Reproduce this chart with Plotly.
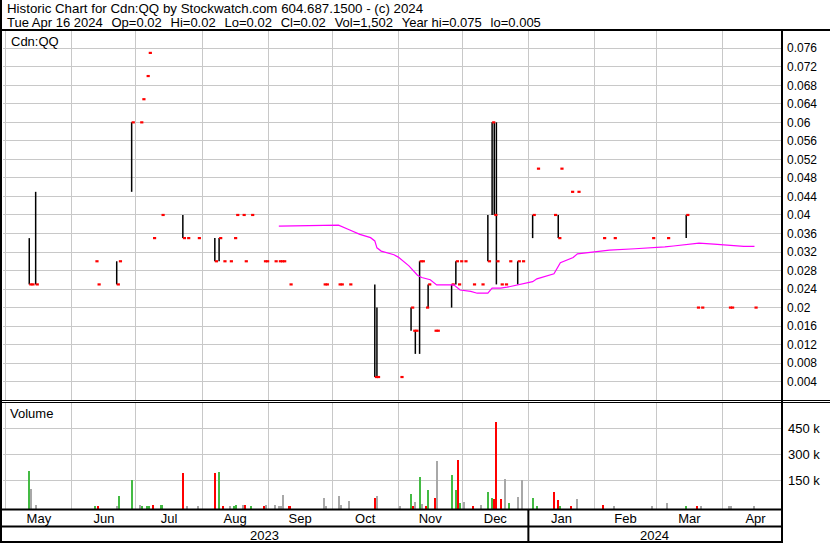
import pandas as pd
import plotly.graph_objects as go

# ---------------- data (Cdn:QQ daily) ----------------
dates = ["2023-05-12", "2023-05-13", "2023-05-15", "2023-06-12", "2023-06-13", "2023-06-22",
         "2023-06-23", "2023-06-29", "2023-07-03", "2023-07-04", "2023-07-06", "2023-07-07",
         "2023-07-09", "2023-07-13", "2023-07-23", "2023-07-25", "2023-07-30", "2023-08-07",
         "2023-08-09", "2023-08-11", "2023-08-14", "2023-08-16", "2023-08-17", "2023-08-20",
         "2023-08-21", "2023-08-24", "2023-08-30", "2023-08-31", "2023-09-04", "2023-09-06",
         "2023-09-07", "2023-09-08", "2023-09-11", "2023-09-27", "2023-09-28", "2023-10-04",
         "2023-10-05", "2023-10-09", "2023-10-21", "2023-10-22", "2023-11-02", "2023-11-07",
         "2023-11-08", "2023-11-09", "2023-11-11", "2023-11-12", "2023-11-14", "2023-11-15",
         "2023-11-18", "2023-11-19", "2023-11-26", "2023-11-28", "2023-11-29", "2023-11-30",
         "2023-12-02", "2023-12-06", "2023-12-10", "2023-12-13", "2023-12-15", "2023-12-16",
         "2023-12-17", "2023-12-19", "2023-12-21", "2023-12-23", "2023-12-27", "2023-12-29",
         "2024-01-03", "2024-01-05", "2024-01-13", "2024-01-15", "2024-01-16", "2024-01-21",
         "2024-01-24", "2024-02-05", "2024-02-10", "2024-02-28", "2024-03-06", "2024-03-15",
         "2024-03-20", "2024-03-22", "2024-04-04", "2024-04-05", "2024-04-16"]

highs = [0.035, 0.025, 0.045, 0.03, 0.025, 0.03,
         0.03, 0.06, 0.06, 0.065, 0.07, 0.075,
         0.035, 0.04, 0.04, 0.035, 0.035, 0.035,
         0.035, 0.03, 0.03, 0.035, 0.04, 0.04,
         0.03, 0.04, 0.03, 0.03, 0.03, 0.03,
         0.03, 0.03, 0.025, 0.025, 0.025, 0.025,
         0.025, 0.025, 0.025, 0.02, 0.005, 0.02,
         0.015, 0.015, 0.03, 0.03, 0.02, 0.025,
         0.015, 0.015, 0.025, 0.03, 0.025, 0.03,
         0.03, 0.025, 0.025, 0.04, 0.06, 0.06,
         0.06, 0.025, 0.025, 0.03, 0.03, 0.03,
         0.04, 0.05, 0.04, 0.04, 0.05, 0.045,
         0.045, 0.035, 0.035, 0.035, 0.035, 0.04,
         0.02, 0.02, 0.02, 0.02, 0.02]

lows = [0.025, 0.025, 0.025, 0.03, 0.025, 0.025,
        0.03, 0.045, 0.06, 0.065, 0.07, 0.075,
        0.035, 0.04, 0.035, 0.035, 0.035, 0.03,
        0.03, 0.03, 0.03, 0.035, 0.04, 0.04,
        0.03, 0.04, 0.03, 0.03, 0.03, 0.03,
        0.03, 0.03, 0.025, 0.025, 0.025, 0.025,
        0.025, 0.025, 0.005, 0.005, 0.005, 0.015,
        0.015, 0.01, 0.01, 0.03, 0.02, 0.02,
        0.015, 0.015, 0.02, 0.025, 0.025, 0.03,
        0.03, 0.025, 0.025, 0.03, 0.04, 0.04,
        0.025, 0.025, 0.025, 0.03, 0.025, 0.03,
        0.035, 0.05, 0.04, 0.035, 0.05, 0.045,
        0.045, 0.035, 0.035, 0.035, 0.035, 0.035,
        0.02, 0.02, 0.02, 0.02, 0.02]

closes = [0.025, 0.025, 0.025, 0.03, 0.025, 0.025,
          0.03, 0.06, 0.06, 0.065, 0.07, 0.075,
          0.035, 0.04, 0.035, 0.035, 0.035, 0.03,
          0.035, 0.03, 0.03, 0.035, 0.04, 0.04,
          0.03, 0.04, 0.03, 0.03, 0.03, 0.03,
          0.03, 0.03, 0.025, 0.025, 0.025, 0.025,
          0.025, 0.025, 0.005, 0.005, 0.005, 0.02,
          0.015, 0.015, 0.03, 0.03, 0.02, 0.025,
          0.015, 0.015, 0.025, 0.03, 0.025, 0.03,
          0.03, 0.025, 0.025, 0.03, 0.06, 0.04,
          0.03, 0.025, 0.025, 0.03, 0.03, 0.03,
          0.04, 0.05, 0.04, 0.035, 0.05, 0.045,
          0.045, 0.035, 0.035, 0.035, 0.035, 0.04,
          0.02, 0.02, 0.02, 0.02, 0.02]

volumes = [202000, 98000, 6000, 1500, 1500, 1500,
           58000, 150000, 3000, 2000, 1500, 1500,
           3000, 5000, 190000, 1500, 1500, 190000,
           196000, 1500, 1500, 1500, 6000, 2500,
           3500, 1500, 1500, 3500, 2500, 1500,
           1500, 63000, 1500, 46000, 1500, 58000,
           2500, 29000, 46000, 58000, 1500, 69000,
           1500, 21000, 166000, 10000, 1500, 92000,
           46000, 261000, 179000, 92000, 265000, 17000,
           23000, 2000, 4000, 81000, 46000, 40000,
           485000, 40000, 156000, 17000, 52000, 150000,
           46000, 1500, 81000, 35000, 2000, 1000,
           40000, 6000, 2000, 2000, 17000, 2000,
           2000, 2000, 2000, 2000, 1502]

# moving average (magenta line)
ma_dates = ["2023-09-06", "2023-10-04", "2023-10-09", "2023-10-14", "2023-10-19", "2023-10-21",
            "2023-10-22", "2023-10-24", "2023-10-30", "2023-11-01", "2023-11-06", "2023-11-10",
            "2023-11-12", "2023-11-16", "2023-11-19", "2023-11-27", "2023-11-30", "2023-12-05",
            "2023-12-08", "2023-12-13", "2023-12-15", "2023-12-19", "2023-12-22", "2023-12-30",
            "2024-01-03", "2024-01-05", "2024-01-13", "2024-01-16", "2024-01-22", "2024-01-24",
            "2024-02-03", "2024-02-08", "2024-02-20", "2024-03-01", "2024-03-05", "2024-03-09",
            "2024-03-14", "2024-03-21", "2024-03-28", "2024-04-04", "2024-04-11", "2024-04-16"]
ma_values = [0.0376, 0.0378, 0.0368, 0.0358, 0.0351, 0.0344,
             0.0329, 0.0322, 0.0314, 0.0309, 0.0290, 0.0270,
             0.0265, 0.0260, 0.0249, 0.0249, 0.0238, 0.0235,
             0.0231, 0.0231, 0.0242, 0.0242, 0.0244, 0.0251,
             0.0256, 0.0262, 0.0273, 0.0297, 0.0308, 0.0316,
             0.0322, 0.0324, 0.0327, 0.0329, 0.0331, 0.0333,
             0.0335, 0.0339, 0.0337, 0.0334, 0.0332, 0.0332]

price_ticks = [0.004, 0.008, 0.012, 0.016, 0.02, 0.024, 0.028, 0.032, 0.036, 0.04,
               0.044, 0.048, 0.052, 0.056, 0.06, 0.064, 0.068, 0.072, 0.076]
price_tick_labels = ["0.004", "0.008", "0.012", "0.016", "0.02", "0.024", "0.028", "0.032",
                     "0.036", "0.04", "0.044", "0.048", "0.052", "0.056", "0.06", "0.064",
                     "0.068", "0.072", "0.076"]
vol_ticks = [150000, 300000, 450000]
vol_tick_labels = ["150 k", "300 k", "450 k"]

header1 = "Historic Chart for Cdn:QQ by Stockwatch.com 604.687.1500 - (c) 2024"
header2_fields = ["Tue Apr 16 2024", "Op=0.02", "Hi=0.02", "Lo=0.02", "Cl=0.02",
                  "Vol=1,502", "Year hi=0.075", "lo=0.005"]
symbol = "Cdn:QQ"
vol_title = "Volume"
years = ["2023", "2024"]

# ---------------- styling / layout helpers ----------------
FONT = "Arial, 'Liberation Sans', sans-serif"
GRID = "#C8C8C8"
W, H = 830, 543
L, R, T, B = 3, 781, 31, 509          # plot area in pixels


def px(x):
    return (x - L) / (R - L)


def py(y):
    return (B - y) / (B - T)


dt = pd.to_datetime(dates)
fmt = "%Y-%m-%d %H:%M"

hl_x, hl_y = [], []
for d, h, l in zip(dt, highs, lows):
    if h > l:
        hl_x += [d.strftime(fmt), d.strftime(fmt), None]
        hl_y += [l, h, None]

cl_x, cl_y = [], []
for d, c in zip(dt, closes):
    cl_x += [d.strftime(fmt), (d + pd.Timedelta(hours=36)).strftime(fmt), None]
    cl_y += [c, c, None]

vcolors = []
prev = None
for c in closes:
    if prev is None or c > prev:
        vcolors.append("#44BB44")
    elif c < prev:
        vcolors.append("#FF0000")
    else:
        vcolors.append("#A8A8A8")
    prev = c

fig = go.Figure()
fig.add_trace(go.Scatter(x=hl_x, y=hl_y, mode="lines", line=dict(color="black", width=1.5),
                         xaxis="x", yaxis="y", hoverinfo="skip", connectgaps=False))
fig.add_trace(go.Scatter(x=cl_x, y=cl_y, mode="lines", line=dict(color="#FF0000", width=2.2),
                         xaxis="x", yaxis="y", hoverinfo="skip", connectgaps=False))
fig.add_trace(go.Scatter(x=ma_dates, y=ma_values, mode="lines",
                         line=dict(color="#FF00FF", width=1.2), xaxis="x", yaxis="y"))
fig.add_trace(go.Bar(x=dates, y=[v + 18000 for v in volumes], base=-18000,
                     marker=dict(color=vcolors, line=dict(width=0)),
                     width=0.95 * 86400000, xaxis="x2", yaxis="y2"))

xrange = ["2023-04-29 16:29", "2024-04-28 10:33"]
common_x = dict(type="date", range=xrange, showgrid=True, gridcolor=GRID, gridwidth=1,
                dtick="M1", tick0="2023-05-01", zeroline=False, showline=False)

fig.update_layout(
    width=W, height=H,
    margin=dict(l=L, r=W - R, t=T, b=H - B),
    paper_bgcolor="white", plot_bgcolor="white",
    showlegend=False, bargap=0,
    font=dict(family=FONT, size=13, color="black"),
    xaxis=dict(domain=[0, 1], anchor="y", showticklabels=False, **common_x),
    xaxis2=dict(domain=[0, 1], anchor="y2", matches="x", showticklabels=True,
                tickformat="%b", ticklabelmode="period", ticks="",
                tickfont=dict(size=13, family=FONT, color="black"), **common_x),
    yaxis=dict(domain=[py(400), 1], range=[0.00004, 0.07973], side="right",
               tickvals=price_ticks, ticktext=price_tick_labels, showgrid=True,
               gridcolor=GRID, zeroline=False, showline=False, ticks="",
               ticklabelstandoff=5, tickfont=dict(size=12, family=FONT, color="black")),
    yaxis2=dict(domain=[0, py(403)], range=[-18000, 597000], side="right",
                tickvals=vol_ticks, ticktext=vol_tick_labels, showgrid=True,
                gridcolor=GRID, zeroline=False, showline=False, ticks="",
                ticklabelstandoff=6, tickfont=dict(size=13, family=FONT, color="black")),
)

gap = "\u2009\u2009\u00a0"
header2 = gap.join(header2_fields)
annotations = [
    dict(text=header1, x=px(5), y=py(8.5), size=13.3),
    dict(text=header2, x=px(5), y=py(22.5), size=13),
    dict(text=symbol, x=px(9), y=py(42), size=13),
    dict(text=vol_title, x=px(8), y=py(413), size=13),
]
for a in annotations:
    s = a.pop("size")
    a.update(xref="paper", yref="paper", xanchor="left", yanchor="middle", showarrow=False,
             font=dict(family=FONT, size=s, color="black"))
annotations += [
    dict(text=years[0], x=px(264), y=py(535), xref="paper", yref="paper", xanchor="center",
         yanchor="middle", showarrow=False, font=dict(family=FONT, size=13, color="black")),
    dict(text=years[1], x=px(654), y=py(535), xref="paper", yref="paper", xanchor="center",
         yanchor="middle", showarrow=False, font=dict(family=FONT, size=13, color="black")),
]
fig.update_layout(annotations=annotations)

shapes = []


def hline(y, x0, x1, w):
    shapes.append(dict(type="line", xref="paper", yref="paper", x0=px(x0), x1=px(x1),
                       y0=py(y), y1=py(y), line=dict(color="black", width=w)))


def vline(x, y0, y1, w):
    shapes.append(dict(type="line", xref="paper", yref="paper", x0=px(x), x1=px(x),
                       y0=py(y0), y1=py(y1), line=dict(color="black", width=w)))


hline(30, 0, W, 2)
hline(400.5, 0, W, 1)
hline(402.5, 0, W, 1)
hline(509.5, 0, 782, 2)
hline(526.5, 0, 782, 2)
hline(542, 0, 782, 2)
vline(1, 0, H, 2)
vline(782, 30, 543, 2)
shapes.append(dict(type="line", xref="x", yref="paper", x0="2024-01-01", x1="2024-01-01",
                   y0=py(509), y1=py(542), line=dict(color="black", width=2)))
fig.update_layout(shapes=shapes)

fig.write_html("out.html", config=dict(displayModeBar=False),
               post_script="document.body.style.margin='0px';")
